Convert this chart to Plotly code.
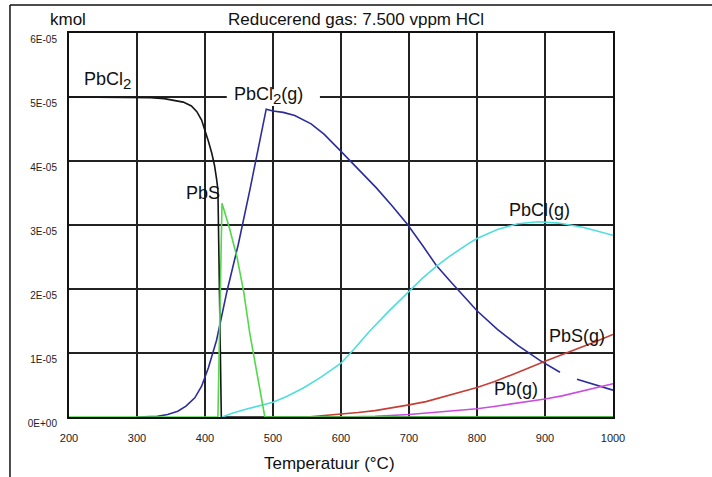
import plotly.graph_objects as go

# ---- data (values in 1E-05 kmol) ----
t_pbcl2 = [200, 250, 300, 320, 340, 355, 368, 380, 388, 395, 400, 405, 410, 414, 417, 419, 424, 1000]
v_pbcl2 = [5.0, 5.0, 5.0, 4.99, 4.975, 4.95, 4.92, 4.86, 4.77, 4.64, 4.48, 4.31, 4.12, 3.93, 3.72, 3.55, 0.0, 0.0]

t_pbs = [200, 419, 425, 436, 447, 457, 466, 477, 488, 1000]
v_pbs = [0.0, 0.0, 3.34, 2.95, 2.5, 1.95, 1.3, 0.65, 0.0, 0.0]

t_pbcl2g = [300, 330, 345, 360, 372, 385, 395, 405, 417, 432, 449, 466, 490, 500, 515, 532, 556, 575,
            600, 625, 652, 675, 697, 720, 740, 760, 780, 800, 830, 860, 893, 922, 935, 947, 975, 1000]
v_pbcl2g = [0.0, 0.01, 0.04, 0.09, 0.17, 0.3, 0.48, 0.77, 1.2, 1.95, 2.7, 3.55, 4.81, 4.78, 4.76, 4.71, 4.58, 4.42,
            4.15, 3.88, 3.58, 3.3, 3.02, 2.68, 2.37, 2.13, 1.89, 1.66, 1.37, 1.12, 0.88, 0.7, None, 0.59, 0.5, 0.42]

t_pbclg = [425, 440, 460, 480, 500, 520, 544, 570, 600, 620, 642, 670, 700, 720, 741, 761, 789, 800,
           830, 860, 890, 920, 957, 1000]
v_pbclg = [0.0, 0.06, 0.12, 0.17, 0.23, 0.32, 0.45, 0.62, 0.84, 1.07, 1.34, 1.65, 1.97, 2.17, 2.36, 2.52, 2.72, 2.79,
           2.93, 3.02, 3.05, 3.03, 2.96, 2.84]

t_pbsg = [550, 575, 600, 625, 650, 675, 700, 725, 746, 770, 789, 800, 825, 850, 875, 900, 925, 950, 975, 1000]
v_pbsg = [0.0, 0.02, 0.05, 0.07, 0.1, 0.14, 0.19, 0.24, 0.3, 0.37, 0.43, 0.46, 0.55, 0.65, 0.76, 0.87, 0.97, 1.07, 1.18, 1.29]

t_pbg = [600, 650, 700, 725, 750, 775, 800, 825, 850, 875, 900, 925, 950, 975, 1000]
v_pbg = [0.0, 0.01, 0.04, 0.06, 0.08, 0.105, 0.13, 0.165, 0.2, 0.24, 0.28, 0.33, 0.39, 0.45, 0.52]

y_ticks = [0, 1, 2, 3, 4, 5, 6]
y_ticktext = ["0E+00", "1E-05", "2E-05", "3E-05", "4E-05", "5E-05", "6E-05"]
x_ticks = [200, 300, 400, 500, 600, 700, 800, 900, 1000]

SCALE = 1e-5

def sc(vals):
    return [None if v is None else v * SCALE for v in vals]

FONT = "Liberation Sans, Arial, sans-serif"

fig = go.Figure()
series = [
    (t_pbcl2, v_pbcl2, "#151515"),
    (t_pbcl2g, v_pbcl2g, "#2c2c9c"),
    (t_pbclg, v_pbclg, "#4fdede"),
    (t_pbsg, v_pbsg, "#c63e36"),
    (t_pbg, v_pbg, "#c94ee0"),
    (t_pbs, v_pbs, "#52d84a"),
]
for t, v, c in series:
    fig.add_trace(go.Scatter(x=t, y=sc(v), mode="lines",
                             line=dict(color=c, width=1.6),
                             connectgaps=False, showlegend=False, hoverinfo="skip"))

# white patch under the PbCl2(g) label interrupting the gridline
fig.add_shape(type="rect", xref="x", yref="y", x0=432, x1=569, y0=4.86 * SCALE, y1=5.12 * SCALE,
              fillcolor="white", line=dict(width=0), layer="between")

SUB2 = "<sub><span style='font-size:15px'>2</span></sub>"
labels = [
    ("PbCl" + SUB2, 257, 5.26),
    ("PbCl" + SUB2 + "(g)", 494, 5.02),
    ("PbS", 397, 3.50),
    ("PbCl(g)", 892, 3.24),
    ("PbS(g)", 947, 1.27),
    ("Pb(g)", 857, 0.43),
]
for txt, x, y in labels:
    fig.add_annotation(x=x, y=y * SCALE, xref="x", yref="y", text=txt, showarrow=False,
                       font=dict(family=FONT, size=18, color="#111"),
                       xanchor="center", yanchor="middle")

# titles
fig.add_annotation(x=0.5276, y=1.034, xref="paper", yref="paper",
                   text="Reducerend gas: 7.500 vppm HCl", showarrow=False,
                   font=dict(family=FONT, size=17, color="#111"), xanchor="center", yanchor="middle")
fig.add_annotation(x=-0.001, y=1.034, xref="paper", yref="paper", text="kmol", showarrow=False,
                   font=dict(family=FONT, size=17, color="#111"), xanchor="center", yanchor="middle")
fig.add_annotation(x=0.478, y=-0.12, xref="paper", yref="paper", text="Temperatuur (°C)",
                   showarrow=False, font=dict(family=FONT, size=17, color="#111"),
                   xanchor="center", yanchor="middle")

# outer frame of the picture (top and left edge)
fig.add_shape(type="line", xref="paper", yref="paper", x0=-0.1085, x1=1.19, y0=1.073, y1=1.073,
              line=dict(color="#111", width=1.5))
fig.add_shape(type="line", xref="paper", yref="paper", x0=-0.1085, x1=-0.1085, y0=1.073, y1=-0.17,
              line=dict(color="#111", width=1.5))

fig.update_layout(
    width=712, height=477,
    margin=dict(l=69, r=99, t=33, b=60),
    paper_bgcolor="white", plot_bgcolor="white",
    font=dict(family=FONT, color="#222"),
    xaxis=dict(range=[200, 1000], tickvals=x_ticks, showgrid=True, gridcolor="#222", gridwidth=2,
               showline=True, linecolor="#111", linewidth=2, mirror=True, zeroline=False,
               ticks="", tickfont=dict(size=11, family=FONT, color="#222"), ticklabelstandoff=10),
    yaxis=dict(range=[0, 6 * SCALE], tickvals=[v * SCALE for v in y_ticks], ticktext=y_ticktext,
               showgrid=True, gridcolor="#222", gridwidth=2,
               showline=True, linecolor="#111", linewidth=2, mirror=True, zeroline=False,
               ticks="", tickfont=dict(size=10, family=FONT, color="#222"),
               ticklabelstandoff=8, ticklabelshift=6),
)

fig.write_html("out.html")
